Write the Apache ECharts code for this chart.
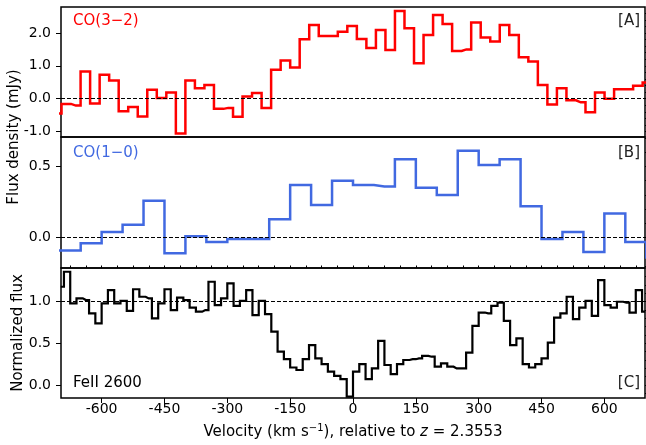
<!DOCTYPE html>
<html>
<head>
<meta charset="utf-8">
<script src="https://cdn.jsdelivr.net/npm/echarts@6/dist/echarts.min.js"></script>
<style>
  html, body { margin: 0; padding: 0; background: #fff; }
  #chart { width: 646px; height: 445px; }
</style>
</head>
<body>
<div id="chart"></div>
<script>
// CO(3-2): channel centres (km/s) and flux density (mJy)
const co32Vel = [-707.1, -684.4, -661.6, -638.9, -616.1, -593.4, -570.7, -547.9, -525.2, -502.4,
  -479.7, -457.0, -434.2, -411.5, -388.7, -366.0, -343.3, -320.5, -297.8, -275.0, -252.3, -229.6,
  -206.8, -184.1, -161.3, -138.6, -115.9, -93.1, -70.4, -47.6, -24.9, -2.2, 20.6, 43.3, 66.1, 88.8,
  111.5, 134.3, 157.0, 179.8, 202.5, 225.2, 248.0, 270.7, 293.5, 316.2, 338.9, 361.7, 384.4, 407.2,
  429.9, 452.6, 475.4, 498.1, 520.9, 543.6, 566.3, 589.1, 611.8, 634.6, 657.3, 680.0, 702.8]
const co32Flux = [-0.45, -0.16, -0.21, 0.83, -0.15, 0.73, 0.55, -0.38, -0.25, -0.54, 0.27, 0.02,
  0.19, -1.06, 0.55, 0.32, 0.42, -0.31, -0.28, -0.55, 0.07, 0.17, -0.28, 0.88, 1.16, 0.95, 1.81,
  2.24, 1.91, 1.91, 2.04, 2.21, 1.82, 1.54, 2.09, 1.48, 2.67, 2.14, 1.08, 1.94, 2.55, 2.27, 1.45,
  1.5, 2.32, 1.86, 1.74, 2.24, 1.94, 1.26, 1.13, 0.42, -0.18, 0.32, -0.05, -0.11, -0.41, 0.19, 0.0,
  0.29, 0.29, 0.39, 0.49]

// CO(1-0): 50 km/s channels
const co10Vel = [-725, -675, -625, -575, -525, -475, -425, -375, -325, -275, -225, -175, -125, -75,
  -25, 25, 75, 125, 175, 225, 275, 325, 375, 425, 475, 525, 575, 625, 675, 725]
const co10Flux = [-0.09, -0.09, -0.04, 0.04, 0.09, 0.26, -0.11, 0.01, -0.03, -0.01, -0.01, 0.13,
  0.37, 0.23, 0.40, 0.37, 0.36, 0.55, 0.35, 0.30, 0.61, 0.51, 0.55, 0.22, -0.01, 0.04, -0.10, 0.17,
  -0.03, -0.14]

// FeII 2600: 15 km/s pixels, normalized flux
const feVel = [-697.5, -682.5, -667.5, -652.5, -637.5, -622.5, -607.5, -592.5, -577.5, -562.5,
  -547.5, -532.5, -517.5, -502.5, -487.5, -472.5, -457.5, -442.5, -427.5, -412.5, -397.5, -382.5,
  -367.5, -352.5, -337.5, -322.5, -307.5, -292.5, -277.5, -262.5, -247.5, -232.5, -217.5, -202.5,
  -187.5, -172.5, -157.5, -142.5, -127.5, -112.5, -97.5, -82.5, -67.5, -52.5, -37.5, -22.5, -7.5,
  7.5, 22.5, 37.5, 52.5, 67.5, 82.5, 97.5, 112.5, 127.5, 142.5, 157.5, 172.5, 187.5, 202.5, 217.5,
  232.5, 247.5, 262.5, 277.5, 292.5, 307.5, 322.5, 337.5, 352.5, 367.5, 382.5, 397.5, 412.5, 427.5,
  442.5, 457.5, 472.5, 487.5, 502.5, 517.5, 532.5, 547.5, 562.5, 577.5, 592.5, 607.5, 622.5, 637.5,
  652.5, 667.5, 682.5, 697.5]
const feFlux = [1.18, 1.36, 0.98, 1.04, 1.02, 0.86, 0.74, 0.98, 1.14, 0.98, 1.01, 0.89, 1.15, 1.06,
  1.04, 0.80, 0.98, 1.15, 0.90, 1.05, 1.02, 0.93, 0.88, 0.90, 1.24, 0.96, 1.04, 1.22, 0.95, 1.01,
  1.14, 0.84, 1.01, 0.85, 0.64, 0.40, 0.31, 0.21, 0.18, 0.31, 0.48, 0.32, 0.25, 0.16, 0.11, 0.07,
  -0.14,
  0.16, 0.25, 0.07, 0.20, 0.53, 0.24, 0.13, 0.25, 0.30, 0.31, 0.32, 0.35, 0.34, 0.22, 0.26, 0.22,
  0.20, 0.20, 0.39, 0.71, 0.87, 0.86, 0.95, 0.99, 0.77, 0.48, 0.56, 0.25, 0.21, 0.25, 0.32, 0.51,
  0.81, 0.86, 1.06, 0.79, 0.93, 1.01, 0.83, 1.26, 0.96, 0.93, 1.0, 0.99, 0.87, 1.14, 0.88]

// tick positions
const xTicks = [-600, -450, -300, -150, 0, 150, 300, 450, 600]
const xMinor = [-675, -637.5, -600, -562.5, -525, -487.5, -450, -412.5, -375, -337.5, -300, -262.5,
  -225, -187.5, -150, -112.5, -75, -37.5, 0, 37.5, 75, 112.5, 150, 187.5, 225, 262.5, 300, 337.5,
  375, 412.5, 450, 487.5, 525, 562.5, 600, 637.5, 675]
const aTicks = [-1, 0, 1, 2]
const aMinor = [-1, -0.8, -0.6, -0.4, -0.2, 0, 0.2, 0.4, 0.6, 0.8, 1, 1.2, 1.4, 1.6, 1.8, 2, 2.2, 2.4, 2.6]
const bTicks = [0, 0.5]
const bMinor = [-0.2, -0.1, 0, 0.1, 0.2, 0.3, 0.4, 0.5, 0.6, 0.7]
const cTicks = [0, 0.5, 1]
const cMinor = [-0.1, 0, 0.1, 0.2, 0.3, 0.4, 0.5, 0.6, 0.7, 0.8, 0.9, 1.0, 1.1, 1.2, 1.3]

const FONT = 'DejaVu Sans'
const XMIN = -697, XMAX = 697
const TICK_FS = 14
const NAME_FS = 15

const chart = echarts.init(document.getElementById('chart'), null, { renderer: 'canvas' })

const pairs = (v, f) => v.map((x, i) => [x, f[i]])

const grid = (top, height) => ({
  left: 61, right: 1, top, height,
  show: true, borderColor: '#000', borderWidth: 1.5, backgroundColor: 'transparent',
})

const noLine = { show: false, onZero: false }

const yAxes = (gi, min, max, major, minor) => [
  {
    type: 'value', gridIndex: gi, min, max,
    axisLine: noLine, splitLine: { show: false },
    axisTick: { customValues: major, length: 5, lineStyle: { color: '#000', width: 1 } },
    axisLabel: {
      customValues: major, formatter: (v) => v.toFixed(1), margin: 10,
      color: '#000', fontFamily: FONT, fontSize: TICK_FS,
    },
  },
  {
    type: 'value', gridIndex: gi, min, max,
    axisLine: noLine, splitLine: { show: false }, axisLabel: { show: false },
    axisTick: { customValues: minor, length: 2.5, lineStyle: { color: '#000', width: 1 } },
  },
]

const dashed = (y) => ({
  silent: true, symbol: 'none', label: { show: false },
  lineStyle: { type: [4, 2], color: '#000', width: 1 },
  emphasis: { disabled: true },
  data: [{ yAxis: y }],
})

const stepLine = (xi, yi, data, color, width, base) => ({
  type: 'line', xAxisIndex: xi, yAxisIndex: yi, data, step: 'middle',
  showSymbol: false, symbol: 'none', clip: true,
  lineStyle: { color, width, join: 'miter' },
  markLine: dashed(base),
  z: 3,
})

const label = (x, y, text, color, align) => ({
  type: 'text', x, y, z: 10,
  style: { text, fill: color, font: `15px "${FONT}"`, align, verticalAlign: 'middle' },
})

const yName = (x, y, text) => ({
  type: 'text', x, y, rotation: Math.PI / 2,
  style: { text, fill: '#000', font: `${NAME_FS}px "${FONT}"`, align: 'center', verticalAlign: 'middle' },
})

chart.setOption({
  animation: false,
  backgroundColor: '#fff',
  grid: [grid(7, 130), grid(137, 131), grid(268, 130)],
  xAxis: [
    { type: 'value', gridIndex: 0, min: XMIN, max: XMAX, show: false, axisLine: noLine },
    { type: 'value', gridIndex: 1, min: XMIN, max: XMAX, show: false, axisLine: noLine },
    {
      type: 'value', gridIndex: 2, min: XMIN, max: XMAX,
      axisLine: noLine, splitLine: { show: false },
      axisTick: { customValues: xTicks, length: 5, lineStyle: { color: '#000', width: 1 } },
      axisLabel: {
        customValues: xTicks, formatter: (v) => String(v), margin: 4,
        color: '#000', fontFamily: FONT, fontSize: TICK_FS,
      },
      name: '{a|Velocity (km s}{s|\u22121}{a|), relative to }{i|z}{a| = 2.3553}',
      nameLocation: 'middle', nameGap: 25,
      nameTextStyle: {
        rich: {
          a: { fontFamily: FONT, fontSize: NAME_FS, color: '#000' },
          s: { fontFamily: FONT, fontSize: 10, color: '#000', padding: [0, 0, 8, 0] },
          i: { fontFamily: FONT, fontSize: NAME_FS, color: '#000', fontStyle: 'italic' },
        },
      },
    },
    {
      type: 'value', gridIndex: 2, min: XMIN, max: XMAX,
      axisLine: noLine, splitLine: { show: false }, axisLabel: { show: false },
      axisTick: { customValues: xMinor, length: 2.5, lineStyle: { color: '#000', width: 1 } },
    },
  ],
  yAxis: [
    ...yAxes(0, -1.166, 2.79, aTicks, aMinor),
    ...yAxes(1, -0.213, 0.707, bTicks, bMinor),
    ...yAxes(2, -0.156, 1.405, cTicks, cMinor),
  ],
  series: [
    stepLine(0, 0, pairs(co32Vel, co32Flux), '#ff0000', 2.5, 0),
    stepLine(1, 2, pairs(co10Vel, co10Flux), '#4169e1', 2.5, 0),
    stepLine(2, 4, pairs(feVel, feFlux), '#000000', 2.2, 1),
  ],
  graphic: [
    label(73, 21, 'CO(3\u22122)', '#ff0000', 'left'),
    label(640, 21, '[A]', '#222', 'right'),
    label(73, 153, 'CO(1\u22120)', '#4169e1', 'left'),
    label(640, 153, '[B]', '#222', 'right'),
    label(73, 383, 'FeII 2600', '#000', 'left'),
    label(640, 383, '[C]', '#222', 'right'),
    yName(14, 137, 'Flux density (mJy)'),
    yName(18, 333, 'Normalized flux'),
  ],
})
</script>
</body>
</html>
